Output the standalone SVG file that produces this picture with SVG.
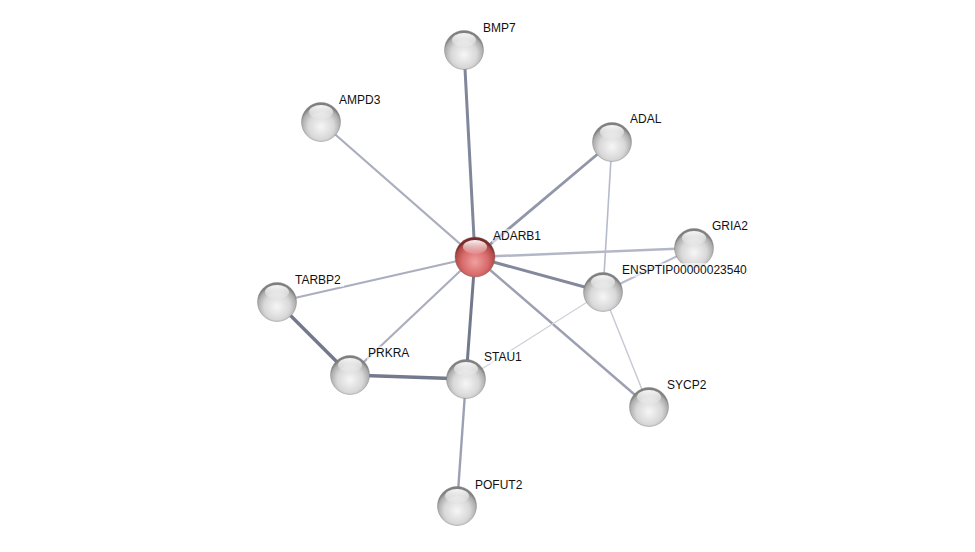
<svg xmlns="http://www.w3.org/2000/svg" width="975" height="552" viewBox="0 0 975 552">
<defs>
<radialGradient id="gGrey" cx="0.5" cy="0.62" r="0.55">
<stop offset="0" stop-color="#f6f6f6"/>
<stop offset="0.6" stop-color="#d8d8d8"/>
<stop offset="0.9" stop-color="#ababab"/>
<stop offset="1" stop-color="#808080"/>
</radialGradient>
<radialGradient id="gRed" cx="0.5" cy="0.62" r="0.55">
<stop offset="0" stop-color="#f0a0a0"/>
<stop offset="0.6" stop-color="#d86a6a"/>
<stop offset="0.9" stop-color="#b04848"/>
<stop offset="1" stop-color="#7a2a2a"/>
</radialGradient>
<linearGradient id="gHi" x1="0" y1="0" x2="0" y2="1">
<stop offset="0" stop-color="#fff" stop-opacity="0.95"/>
<stop offset="1" stop-color="#fff" stop-opacity="0.1"/>
</linearGradient>
</defs>
<style>
.e{fill:none;stroke-linecap:round}
.lbl{font-family:"Liberation Sans",Arial,sans-serif;font-size:12px;fill:#111}
.bg{fill:#fff;fill-opacity:0.55}
.rim{stroke:#777;stroke-width:1;stroke-opacity:0.4}
</style>
<rect width="975" height="552" fill="#fff"/>
<g id="edges">
<line class="e" x1="475" y1="257" x2="464" y2="50" stroke="#81879b" stroke-width="3"/>
<line class="e" x1="475" y1="257" x2="321" y2="122" stroke="#abaebe" stroke-width="2.2"/>
<line class="e" x1="475" y1="257" x2="612" y2="142" stroke="#9196a9" stroke-width="2.8"/>
<line class="e" x1="475" y1="257" x2="694" y2="248" stroke="#b3b6c6" stroke-width="2.5"/>
<line class="e" x1="475" y1="257" x2="603" y2="292" stroke="#83889c" stroke-width="3"/>
<line class="e" x1="475" y1="257" x2="277" y2="302" stroke="#abaebe" stroke-width="2.2"/>
<line class="e" x1="475" y1="257" x2="350" y2="375" stroke="#abaebe" stroke-width="2.2"/>
<line class="e" x1="475" y1="257" x2="466" y2="379" stroke="#73798d" stroke-width="3"/>
<line class="e" x1="475" y1="257" x2="649" y2="407" stroke="#9ca0b2" stroke-width="2.4"/>
<line class="e" x1="277" y1="302" x2="350" y2="375" stroke="#73788c" stroke-width="3.4"/>
<line class="e" x1="350" y1="375" x2="466" y2="379" stroke="#74798d" stroke-width="3.4"/>
<line class="e" x1="466" y1="379" x2="457" y2="506" stroke="#9ca0b2" stroke-width="2.4"/>
<line class="e" x1="612" y1="142" x2="603" y2="292" stroke="#b7bacb" stroke-width="1.6"/>
<line class="e" x1="694" y1="248" x2="603" y2="292" stroke="#b7bacb" stroke-width="2"/>
<line class="e" x1="603" y1="292" x2="466" y2="379" stroke="#d0d2db" stroke-width="1.2"/>
<line class="e" x1="603" y1="292" x2="649" y2="407" stroke="#c5c7d4" stroke-width="1.4"/>
</g>
<g id="ADARB1">
<circle cx="475" cy="257" r="20" fill="url(#gRed)" class="rim"/>
<ellipse cx="475" cy="247" rx="12" ry="7" fill="url(#gHi)"/>
<rect class="bg" x="492" y="229" width="50" height="14"/>
<text class="lbl" x="493" y="240">ADARB1</text>
</g>
<g id="BMP7">
<circle cx="464" cy="50" r="19.5" fill="url(#gGrey)" class="rim"/>
<ellipse cx="464" cy="40" rx="12" ry="7" fill="url(#gHi)"/>
<rect class="bg" x="482" y="21" width="36" height="14"/>
<text class="lbl" x="483" y="32">BMP7</text>
</g>
<g id="AMPD3">
<circle cx="321" cy="122" r="19.5" fill="url(#gGrey)" class="rim"/>
<ellipse cx="321" cy="112" rx="12" ry="7" fill="url(#gHi)"/>
<rect class="bg" x="338" y="93" width="46" height="14"/>
<text class="lbl" x="339" y="104">AMPD3</text>
</g>
<g id="ADAL">
<circle cx="612" cy="142" r="19.5" fill="url(#gGrey)" class="rim"/>
<ellipse cx="612" cy="132" rx="12" ry="7" fill="url(#gHi)"/>
<rect class="bg" x="629" y="112" width="35" height="14"/>
<text class="lbl" x="630" y="123">ADAL</text>
</g>
<g id="GRIA2">
<circle cx="694" cy="248" r="19.5" fill="url(#gGrey)" class="rim"/>
<ellipse cx="694" cy="238" rx="12" ry="7" fill="url(#gHi)"/>
<rect class="bg" x="711" y="219" width="40" height="14"/>
<text class="lbl" x="712" y="230">GRIA2</text>
</g>
<g id="ENSPTIP00000023540">
<circle cx="603" cy="292" r="19.5" fill="url(#gGrey)" class="rim"/>
<ellipse cx="603" cy="282" rx="12" ry="7" fill="url(#gHi)"/>
<rect class="bg" x="621" y="263" width="127" height="14"/>
<text class="lbl" x="622" y="274">ENSPTIP00000023540</text>
</g>
<g id="TARBP2">
<circle cx="277" cy="302" r="19.5" fill="url(#gGrey)" class="rim"/>
<ellipse cx="277" cy="292" rx="12" ry="7" fill="url(#gHi)"/>
<rect class="bg" x="294" y="273" width="50" height="14"/>
<text class="lbl" x="295" y="284">TARBP2</text>
</g>
<g id="PRKRA">
<circle cx="350" cy="375" r="19.5" fill="url(#gGrey)" class="rim"/>
<ellipse cx="350" cy="365" rx="12" ry="7" fill="url(#gHi)"/>
<rect class="bg" x="367" y="346" width="46" height="14"/>
<text class="lbl" x="368" y="357">PRKRA</text>
</g>
<g id="STAU1">
<circle cx="466" cy="379" r="19.5" fill="url(#gGrey)" class="rim"/>
<ellipse cx="466" cy="369" rx="12" ry="7" fill="url(#gHi)"/>
<rect class="bg" x="483" y="350" width="42" height="14"/>
<text class="lbl" x="484" y="361">STAU1</text>
</g>
<g id="SYCP2">
<circle cx="649" cy="407" r="19.5" fill="url(#gGrey)" class="rim"/>
<ellipse cx="649" cy="397" rx="12" ry="7" fill="url(#gHi)"/>
<rect class="bg" x="666" y="378" width="44" height="14"/>
<text class="lbl" x="667" y="389">SYCP2</text>
</g>
<g id="POFUT2">
<circle cx="457" cy="506" r="19.5" fill="url(#gGrey)" class="rim"/>
<ellipse cx="457" cy="496" rx="12" ry="7" fill="url(#gHi)"/>
<rect class="bg" x="474" y="478" width="51" height="14"/>
<text class="lbl" x="475" y="489">POFUT2</text>
</g>
</svg>
